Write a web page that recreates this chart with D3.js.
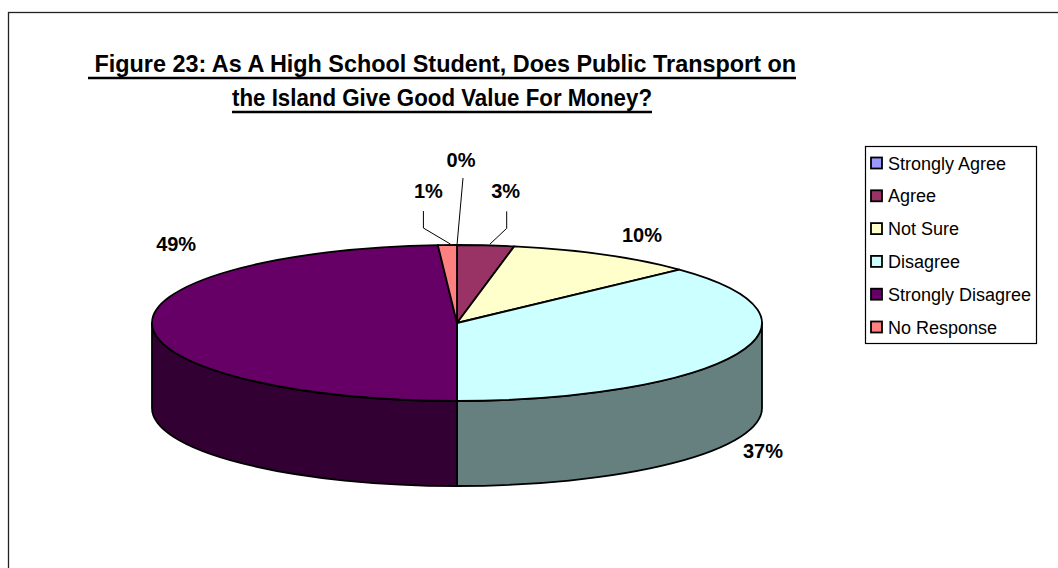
<!DOCTYPE html>
<html>
<head>
<meta charset="utf-8">
<script src="https://cdn.jsdelivr.net/npm/d3@7"></script>
<style>
  html, body { margin: 0; padding: 0; background: #fff; }
  svg { display: block; }
  text { font-family: "Liberation Sans", Arial, sans-serif; }
</style>
</head>
<body>
<svg id="chart" width="1058" height="568"></svg>
<script>
// Survey responses (percent of students)
const categories = ["Strongly Agree", "Agree", "Not Sure", "Disagree", "Strongly Disagree", "No Response"];
const percentages = [0, 3, 10, 37, 49, 1];
const percentLabels = ["0%", "3%", "10%", "37%", "49%", "1%"];
const topColors = ["#9999FF", "#993366", "#FFFFCC", "#CCFFFF", "#660066", "#FF8080"];

const titleLines = [" Figure 23: As A High School Student, Does Public Transport on", "the Island Give Good Value For Money?"];

const svg = d3.select("#chart");
const W = 1058, H = 568;

// outer chart frame
svg.append("rect")
  .attr("x", 8.5).attr("y", 12.5)
  .attr("width", W + 20).attr("height", H + 20)
  .attr("fill", "#fff").attr("stroke", "#222").attr("stroke-width", 1.3);

// ---- title (tall, slightly condensed bold face) ----
const titleG = svg.append("g");
const titleCx = 442;
const titleBase = [72, 106];
const titleWidths = [708, 420];
titleLines.forEach((t, i) => {
  titleG.append("text")
    .attr("x", titleCx - titleWidths[i] / 2).attr("y", titleBase[i])
    .attr("font-size", 24).attr("font-weight", "bold")
    .attr("textLength", titleWidths[i]).attr("lengthAdjust", "spacingAndGlyphs")
    .style("white-space", "pre")
    .text(t);
  titleG.append("line")
    .attr("x1", titleCx - titleWidths[i] / 2).attr("x2", titleCx + titleWidths[i] / 2)
    .attr("y1", titleBase[i] + 6).attr("y2", titleBase[i] + 6)
    .attr("stroke", "#000").attr("stroke-width", 2.4);
});

// ---- 3D pie geometry ----
const cx = 457, cy = 323, rx = 305, ry = 78, depth = 85;
const pt = a => [cx + rx * Math.sin(a), cy - ry * Math.cos(a)];

const arcs = d3.pie().sort(null).startAngle(0).endAngle(2 * Math.PI)(percentages);

const shade = c => { const k = d3.rgb(c); return d3.rgb(k.r / 2, k.g / 2, k.b / 2).formatHex(); };

function topPath(a0, a1) {
  const p0 = pt(a0), p1 = pt(a1);
  const large = (a1 - a0) > Math.PI ? 1 : 0;
  return `M${cx},${cy}L${p0[0]},${p0[1]}A${rx},${ry} 0 ${large} 1 ${p1[0]},${p1[1]}Z`;
}
function sidePath(a0, a1) {
  const s = Math.max(a0, Math.PI / 2), e = Math.min(a1, 3 * Math.PI / 2);
  if (e <= s) return null;
  const p0 = pt(s), p1 = pt(e);
  const large = (e - s) > Math.PI ? 1 : 0;
  return `M${p0[0]},${p0[1]}A${rx},${ry} 0 ${large} 1 ${p1[0]},${p1[1]}` +
         `L${p1[0]},${p1[1] + depth}A${rx},${ry} 0 ${large} 0 ${p0[0]},${p0[1] + depth}Z`;
}

const pieG = svg.append("g");
// visible walls of the front half
arcs.forEach((d, i) => {
  const p = sidePath(d.startAngle, d.endAngle);
  if (p) pieG.append("path").attr("d", p)
    .attr("fill", shade(topColors[i])).attr("stroke", "#000")
    .attr("stroke-width", 1.8).attr("stroke-linejoin", "round");
});
// top faces
arcs.forEach((d, i) => {
  if (d.endAngle - d.startAngle <= 0) return;
  pieG.append("path").attr("d", topPath(d.startAngle, d.endAngle))
    .attr("fill", topColors[i]).attr("stroke", "#000")
    .attr("stroke-width", 1.8).attr("stroke-linejoin", "round");
});

// ---- data labels ----
// offset of each label from its slice's rim point, and whether it gets a leader line
const labelOffsets = [[4, -78], [20, -47], [38, -13], [26, 104], [24, -74], [-19, -47]];
const leaderKind = ["straight", "elbow", null, null, null, "elbow"];
const labelG = svg.append("g");
arcs.forEach((d, i) => {
  const mid = (d.startAngle + d.endAngle) / 2;
  const anchor = pt(mid);
  const lx = anchor[0] + labelOffsets[i][0];
  const ly = anchor[1] + labelOffsets[i][1];
  labelG.append("text")
    .attr("x", lx).attr("y", ly)
    .attr("text-anchor", "middle")
    .attr("font-size", 20).attr("font-weight", "bold")
    .text(percentLabels[i]);
  if (leaderKind[i] === "elbow") {
    const x0 = lx + (i === 5 ? -5 : 1);
    const pts = [[x0, ly + 13], [x0, ly + 30], [anchor[0] + (i === 5 ? 3 : 4), anchor[1] - 1]];
    labelG.append("path").attr("d", d3.line()(pts))
      .attr("fill", "none").attr("stroke", "#000").attr("stroke-width", 1);
  } else if (leaderKind[i] === "straight") {
    labelG.append("line")
      .attr("x1", lx + 2).attr("y1", ly + 11)
      .attr("x2", anchor[0]).attr("y2", anchor[1])
      .attr("stroke", "#000").attr("stroke-width", 1);
  }
});

// ---- legend ----
const lg = svg.append("g");
const legX = 865.5, legY = 146.5, legW = 171, legH = 197, rowH = 32.8;
lg.append("rect").attr("x", legX).attr("y", legY).attr("width", legW).attr("height", legH)
  .attr("fill", "#fff").attr("stroke", "#000").attr("stroke-width", 1.2);
const rowY = d3.scalePoint().domain(categories).range([163, 163 + rowH * 5]);
categories.forEach((c, i) => {
  const y = rowY(c);
  lg.append("rect").attr("x", 871).attr("y", y - 5.5).attr("width", 11).attr("height", 11)
    .attr("fill", topColors[i]).attr("stroke", "#000").attr("stroke-width", 1.8);
  lg.append("text").attr("x", 888).attr("y", y + 6.5)
    .attr("font-size", 18).text(c);
});
</script>
</body>
</html>
